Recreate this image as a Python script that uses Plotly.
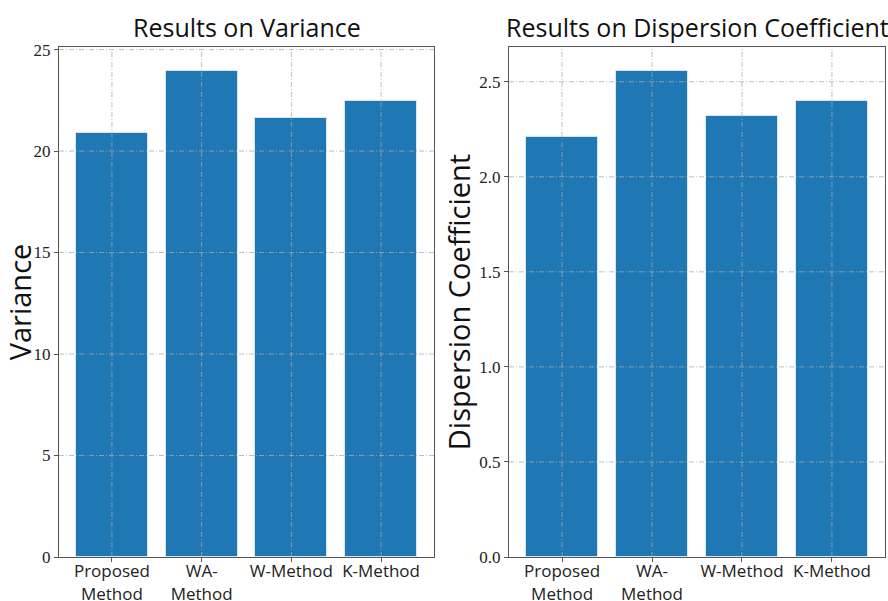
import plotly.graph_objects as go
from plotly.subplots import make_subplots

categories = ["Proposed<br>Method", "WA-<br>Method", "W-Method", "K-Method"]
variance = [20.9, 23.93, 21.63, 22.45]
dispersion = [2.21, 2.555, 2.32, 2.40]
var_ticks = [0, 5, 10, 15, 20, 25]
disp_ticks = [0.0, 0.5, 1.0, 1.5, 2.0, 2.5]
disp_ticklabels = ["0.0", "0.5", "1.0", "1.5", "2.0", "2.5"]
positions = [0, 1, 2, 3]

W, H = 888, 601
fig = make_subplots(rows=1, cols=2)

bar_color = "#1f77b4"
edge = dict(color="#d6e6f4", width=1)
fig.add_trace(go.Bar(x=positions, y=variance, width=0.8, marker=dict(color=bar_color, line=edge), showlegend=False), row=1, col=1)
fig.add_trace(go.Bar(x=positions, y=dispersion, width=0.8, marker=dict(color=bar_color, line=edge), showlegend=False), row=1, col=2)

ax = dict(showgrid=False, automargin=False,
          showline=True, linecolor="#555555", linewidth=1, mirror=True,
          ticks="outside", ticklen=4, tickcolor="#555555", zeroline=False)

var_max = max(variance) * 1.05
disp_max = max(dispersion) * 1.05
xr = [-0.59, 3.59]

# gridlines drawn above the bars, as in the reference
gstyle = dict(color="rgba(170,170,170,0.75)", width=1, dash="5px,2px,1px,2px")
shapes = []
for xa, ya, ymax, ticks in [("x", "y", var_max, var_ticks), ("x2", "y2", disp_max, disp_ticks)]:
    for t in ticks:
        if 0 < t < ymax:
            shapes.append(dict(type="line", xref=xa, yref=ya, x0=xr[0], x1=xr[1], y0=t, y1=t, line=gstyle, layer="above"))
    for p in positions:
        shapes.append(dict(type="line", xref=xa, yref=ya, x0=p, x1=p, y0=0, y1=ymax, line=gstyle, layer="above"))

ydom = [44 / H, 554 / H]
xfont = dict(family="Open Sans", size=17, color="#222")
yfont = dict(family="Liberation Serif", size=17, color="#222")
tfont = dict(family="Open Sans", size=29, color="#111")
fig.update_layout(
    width=W, height=H, margin=dict(l=0, r=0, t=0, b=0),
    plot_bgcolor="white", paper_bgcolor="white", bargap=0,
    shapes=shapes,
    xaxis=dict(domain=[59 / W, 434 / W], range=xr, tickvals=positions, ticktext=categories, tickfont=xfont,
               ticklabelstandoff=-5, **ax),
    xaxis2=dict(domain=[509 / W, 885 / W], range=xr, tickvals=positions, ticktext=categories, tickfont=xfont,
                ticklabelstandoff=-5, **ax),
    yaxis=dict(domain=ydom, range=[0, var_max], tickvals=var_ticks, tickfont=yfont,
               title=dict(text="Variance", font=tfont, standoff=6), **ax),
    yaxis2=dict(domain=ydom, range=[0, disp_max], tickvals=disp_ticks, ticktext=disp_ticklabels, tickfont=yfont,
                title=dict(text="Dispersion Coefficient", font=tfont, standoff=0), **ax),
    annotations=[
        dict(text="Results on Variance", x=(59 + 434) / 2 / W, y=555 / H, xref="paper", yref="paper",
             xanchor="center", yanchor="bottom", showarrow=False,
             font=dict(family="Open Sans", size=25, color="#111")),
        dict(text="Results on Dispersion Coefficient", x=(509 + 885) / 2 / W, y=555 / H, xref="paper", yref="paper",
             xanchor="center", yanchor="bottom", showarrow=False,
             font=dict(family="Open Sans", size=25, color="#111")),
    ],
)

fig.write_html("out.html", config={"displayModeBar": False},
               post_script="document.body.style.margin='0';document.body.style.overflow='hidden';")
